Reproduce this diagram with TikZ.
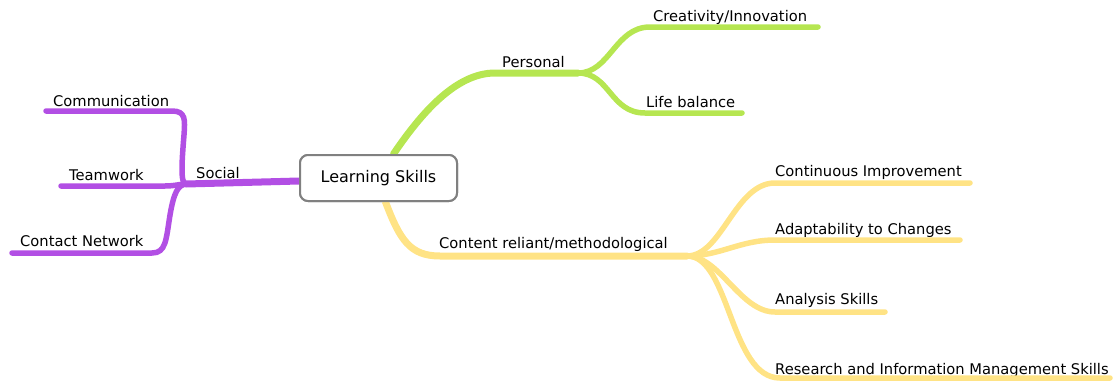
\documentclass[tikz,border=0pt]{standalone}
\usepackage{fontspec}
\setmainfont{DejaVu Sans}
\definecolor{socialc}{HTML}{B24FE4}
\definecolor{personalc}{HTML}{B6E651}
\definecolor{contentc}{HTML}{FFE385}
\definecolor{rootborder}{HTML}{808080}
\begin{document}
\begin{tikzpicture}[x=1pt,y=-1pt,
  lbl/.style={anchor=base west,inner sep=0pt,font=\fontsize{14.7}{16}\selectfont},
  mainbr/.style={line width=7pt,line cap=round},
  subbr/.style={line width=5.5pt,line cap=round},
  rootbox/.style={draw=rootborder,line width=2pt,rounded corners=8pt,fill=white,
    minimum width=157pt,minimum height=46pt,font=\fontsize{16}{18}\selectfont,inner sep=0pt}]
\useasboundingbox (0,0) rectangle (1116,383);
% root node
\node[rootbox] (ls) at (378.5,178) {};
% labels
\node[lbl] (comm) at (53,106) {Communication};
\node[lbl] (team) at (69,180) {Teamwork};
\node[lbl] (cont) at (20,246.5) {Contact Network};
\node[lbl] (soc) at (196,178) {Social};
\node[lbl] (pers) at (502,67) {Personal};
\node[lbl] (crea) at (653,21.5) {Creativity/Innovation};
\node[lbl] (life) at (646,107) {Life balance};
\node[lbl] (crm) at (439,248) {Content reliant/methodological};
\node[lbl] (ci) at (775,176.5) {Continuous Improvement};
\node[lbl] (ad) at (775,234.5) {Adaptability to Changes};
\node[lbl] (an) at (775,304.5) {Analysis Skills};
\node[lbl] (rim) at (775,374.5) {Research and Information Management Skills};
% junctions and free ends
\coordinate (jS) at (186,184);
\coordinate (jP) at (578,73);
\coordinate (jC) at (687,256);
\coordinate (eComm) at (46,111);
\coordinate (eTeam) at (61,186);
\coordinate (eCont) at (12,253);
\coordinate (eCrea) at (818,27);
\coordinate (eLife) at (742,113);
\coordinate (eCi) at (970,183);
\coordinate (eAd) at (960,240);
\coordinate (eAn) at (885,312);
\coordinate (eRim) at (1110,378);
% social branch
\draw[socialc,mainbr] ([yshift=-3pt]ls.west) -- (jS);
\draw[socialc,subbr] (eComm) -- (172,111) .. controls (186,111) and (185,120) .. (184,135)
   .. controls (182,160) and (180,184) .. (jS);
\draw[socialc,subbr] (eTeam) -- (165,186) .. controls (175,186) and (180,184) .. (jS);
\draw[socialc,subbr] (eCont) -- (152,253) .. controls (166,253) and (166,240) .. (170,215)
   .. controls (174,192) and (178,185) .. (jS);
% personal branch
\draw[personalc,mainbr] ([xshift=15pt]ls.north) .. controls (420,115) and (455,73) .. (495,73) -- (jP);
\draw[personalc,subbr] (jP) .. controls (610,73) and (615,27) .. (650,27) -- (eCrea);
\draw[personalc,subbr] (jP) .. controls (610,73) and (610,113) .. (645,113) -- (eLife);
% content branch
\draw[contentc,mainbr] ([xshift=7pt]ls.south) .. controls (400,240) and (410,256) .. (440,256) -- (jC);
\draw[contentc,subbr] (jC) .. controls (722,256) and (735,183) .. (775,183) -- (eCi);
\draw[contentc,subbr] (jC) .. controls (720,256) and (740,240) .. (775,240) -- (eAd);
\draw[contentc,subbr] (jC) .. controls (720,256) and (740,312) .. (775,312) -- (eAn);
\draw[contentc,subbr] (jC) .. controls (730,256) and (730,378) .. (780,378) -- (eRim);
% root drawn on top
\node[rootbox] at (ls) {Learning Skills};
\end{tikzpicture}
\end{document}
